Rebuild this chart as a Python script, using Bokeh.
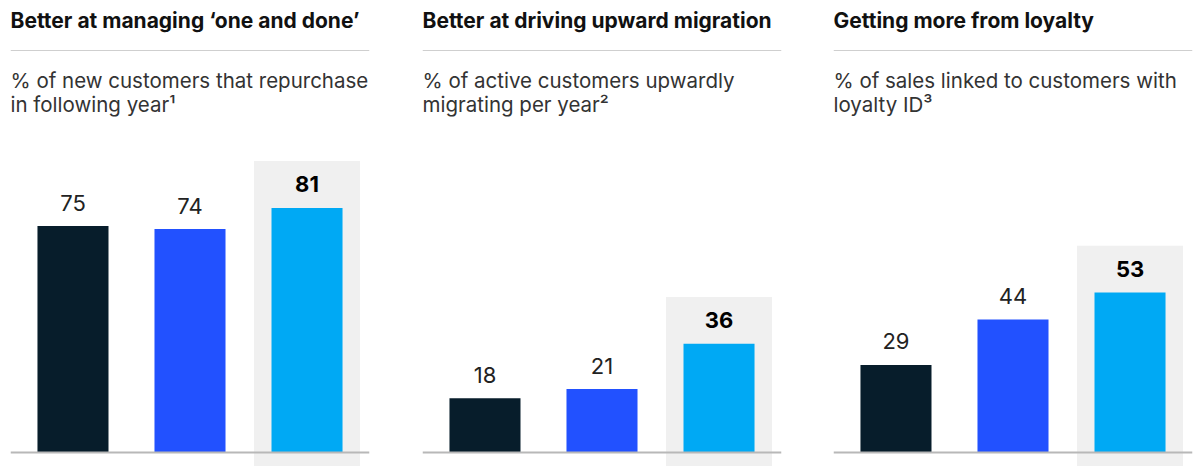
from bokeh.plotting import figure
from bokeh.models import FactorRange, Range1d, Span, Label, ColumnDataSource
from bokeh.layouts import row
from bokeh.embed import file_html
from bokeh.resources import INLINE
from bokeh.core.properties import value

# ---- data ----
categories = ["Group 1", "Group 2", "Group 3"]
titles = ["Better at managing \u2018one and done\u2019",
          "Better at driving upward migration",
          "Getting more from loyalty"]
subtitle_line1 = ["% of new customers that repurchase",
                  "% of active customers upwardly",
                  "% of sales linked to customers with"]
subtitle_line2 = ["in following year\u00b9",
                  "migrating per year\u00b2",
                  "loyalty ID\u00b3"]
repurchase = [75, 74, 81]
upward_migration = [18, 21, 36]
loyalty_sales = [29, 44, 53]
series = [repurchase, upward_migration, loyalty_sales]
highlight = categories[2]

# ---- style ----
colors = ["#071d2b", "#2251ff", "#00a9f4"]
FONT = "Inter"
S = 3.02          # px per unit
H = 466
BASE = 452        # baseline distance from top, px
FRAME = 359
SHIFT = 8.5       # renderer baseline correction, px
widths = [412, 420, 366]
left_borders = [10, 10, 1]

figs = []
for k in range(3):
    vals = series[k]
    w, lb = widths[k], left_borders[k]
    p = figure(width=w, height=H,
               x_range=FactorRange(*categories, range_padding=0.034, range_padding_units="absolute"),
               y_range=Range1d(-(H - BASE) / S, BASE / S),
               x_axis_type=None, y_axis_type=None,
               toolbar_location=None, output_backend="svg",
               min_border_left=lb, min_border_right=w - lb - FRAME,
               min_border_top=0, min_border_bottom=0)
    p.outline_line_color = None
    p.background_fill_color = "white"
    p.border_fill_color = "white"

    # highlight box behind the third bar
    p.vbar(x=[highlight], top=[vals[2] + 15.5], bottom=-(H - BASE) / S - 1, width=0.906,
           fill_color="#f0f0f0", line_color=None)

    src = ColumnDataSource(dict(x=categories, top=vals, color=colors))
    p.vbar(x="x", top="top", width=0.607, fill_color="color", line_color=None, source=src)

    p.text(x=categories[:2], y=vals[:2], text=[str(v) for v in vals[:2]],
           text_align="center", text_baseline="alphabetic", y_offset=-15 - SHIFT,
           text_font=value(FONT), text_font_size="22px", text_color="#222222")
    p.text(x=categories[2:], y=vals[2:], text=[str(v) for v in vals[2:]],
           text_align="center", text_baseline="alphabetic", y_offset=-15 - SHIFT,
           text_font=value(FONT), text_font_size="22px", text_font_style="bold",
           text_color="#000000")

    p.add_layout(Span(location=0, dimension="width", line_color="#b8b8b8", line_width=2))
    p.add_layout(Span(location=(BASE - 50) / S, dimension="width", line_color="#cfcfcf", line_width=1))

    p.add_layout(Label(x=0, y=H - 28.3 + SHIFT, x_units="screen", y_units="screen", text=titles[k],
                       text_font=FONT, text_font_size="21px", text_font_style="bold",
                       text_color="#111111", text_baseline="alphabetic"))
    p.add_layout(Label(x=0, y=H - 88.0 + SHIFT, x_units="screen", y_units="screen", text=subtitle_line1[k],
                       text_font=FONT, text_font_size="20.5px",
                       text_color="#333333", text_baseline="alphabetic"))
    p.add_layout(Label(x=0, y=H - 112.8 + SHIFT, x_units="screen", y_units="screen", text=subtitle_line2[k],
                       text_font=FONT, text_font_size="20.5px",
                       text_color="#333333", text_baseline="alphabetic"))
    figs.append(p)

layout = row(*figs)
open("out.html", "w").write(file_html(layout, INLINE))
